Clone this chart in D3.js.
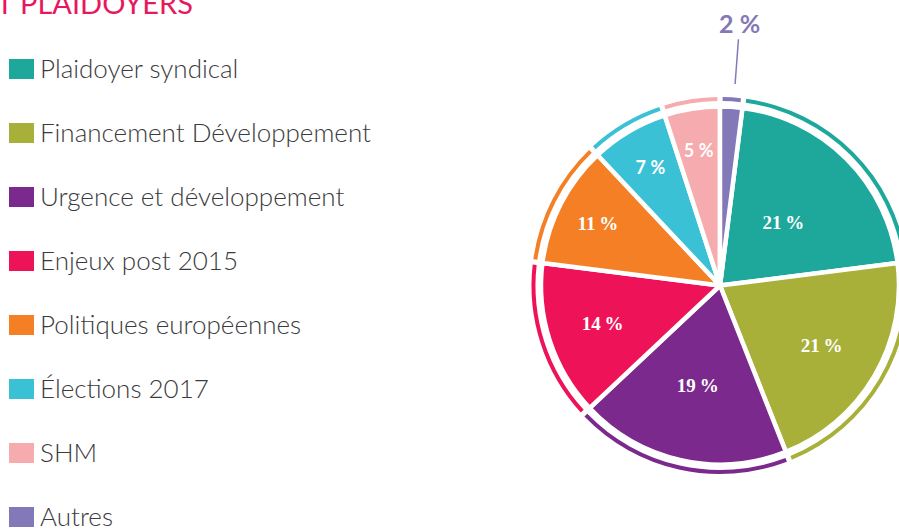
<!DOCTYPE html>
<html>
<head>
<meta charset="utf-8">
<script src="https://cdn.jsdelivr.net/npm/d3@7/dist/d3.min.js"></script>
<style>
    body { margin: 0; background: #fff; }
    svg { display: block; }
    .title { font-family: "Lato", sans-serif; font-size: 29px; fill: #e8185e; }
    .legend-text { font-family: "Lato", sans-serif; font-weight: 300; font-size: 26px; fill: #3b3a3c; }
    .slice { stroke: #fff; stroke-width: 4.5px; stroke-linejoin: round; }
    .label { fill: #fff; font-weight: bold; text-anchor: middle; }
    .label--serif { font-family: "Liberation Serif", serif; font-size: 19px; }
    .label--sans { font-family: "Lato", sans-serif; font-size: 18px; }
    .label--out { font-family: "Lato", sans-serif; font-weight: bold; font-size: 25px; text-anchor: middle; }
</style>
</head>
<body>
<script>
(function() {
    'use strict';

    let categories = [
        "Plaidoyer syndical",
        "Financement Développement",
        "Urgence et développement",
        "Enjeux post 2015",
        "Politiques européennes",
        "Élections 2017",
        "SHM",
        "Autres"
    ];
    let values = [ 21, 21, 19, 14, 11, 7, 5, 2 ];
    let colors = [ "#1ea89b", "#a8b03a", "#7b298c", "#ee1358", "#f47f25", "#3bc1d6", "#f6abae", "#8479b8" ];
    let title = "CAMPAGNES ET PLAIDOYERS";

    let width = 899;
    let height = 530;
    let cx = 720;
    let cy = 285.5;
    let radius = 179;
    let ringInner = 184.5;
    let ringOuter = 188.5;

    function init() {
        let svg = d3.select("body").append("svg")
            .attr("width", width)
            .attr("height", height);

        svg.append("text")
            .attr("class", "title")
            .attr("x", 193)
            .attr("y", 14)
            .attr("text-anchor", "end")
            .text(title);

        drawLegend(svg);
        drawPie(svg);
    }

    function drawLegend(svg) {
        let y = d3.scalePoint()
            .domain(categories)
            .range([ 69, 517 ]);

        let item = svg.append("g").selectAll("g")
            .data(categories)
            .enter()
            .append("g")
            .attr("transform", function(d) { return "translate(0," + y(d) + ")"; });

        item.append("rect")
            .attr("x", 9)
            .attr("y", -10)
            .attr("width", 25)
            .attr("height", 20)
            .attr("fill", function(d, i) { return colors[i]; });

        item.append("text")
            .attr("class", "legend-text")
            .attr("x", 40)
            .attr("y", 9)
            .text(function(d) { return d; });
    }

    function drawPie(svg) {
        let total = d3.sum(values);
        // "Autres" sits first at 12 o'clock, so the rest starts right after it
        let start = values[values.length - 1] / total * 2 * Math.PI;

        let pie = d3.pie()
            .sort(null)
            .startAngle(start)
            .endAngle(start + 2 * Math.PI);

        let arcs = pie(values);

        let arc = d3.arc().innerRadius(0).outerRadius(radius);
        let ring = d3.arc()
            .innerRadius(ringInner)
            .outerRadius(ringOuter)
            .padAngle(0.02);

        let g = svg.append("g")
            .attr("transform", "translate(" + cx + "," + cy + ")");

        g.append("g").selectAll("path")
            .data(arcs)
            .enter()
            .append("path")
            .attr("class", "slice")
            .attr("fill", function(d, i) { return colors[i]; })
            .attr("d", arc);

        g.append("g").selectAll("path")
            .data(arcs)
            .enter()
            .append("path")
            .attr("fill", function(d, i) { return colors[i]; })
            .attr("d", ring);

        // label distance from centre, as a share of the radius
        let labelShare = [ 0.5, 0.66, 0.57, 0.69, 0.765, 0.765, 0.765 ];
        function pct(v) { return v + "\u202F%"; }

        let inside = arcs.filter(function(d) { return d.value >= 5; });
        g.append("g").selectAll("text")
            .data(inside)
            .enter()
            .append("text")
            .attr("class", function(d) {
                return "label " + (d.value >= 10 ? "label--serif" : "label--sans");
            })
            .attr("transform", function(d) {
                let a = (d.startAngle + d.endAngle) / 2;
                let r = radius * labelShare[d.index];
                return "translate(" + (Math.sin(a) * r) + "," + (-Math.cos(a) * r) + ")";
            })
            .attr("dy", "0.35em")
            .text(function(d) { return pct(d.value); });

        // small slice: label outside with a leader line
        let outside = arcs.filter(function(d) { return d.value < 5; });
        outside.forEach(function(d) {
            let a = (d.startAngle + d.endAngle) / 2 + 0.012;
            let col = colors[d.index];
            g.append("line")
                .attr("x1", Math.sin(a) * 202)
                .attr("y1", -Math.cos(a) * 202)
                .attr("x2", Math.sin(a) * 247)
                .attr("y2", -Math.cos(a) * 247)
                .attr("stroke", col)
                .attr("stroke-width", 1.5);
            g.append("text")
                .attr("class", "label--out")
                .attr("fill", col)
                .attr("x", Math.sin(a) * 262)
                .attr("y", -Math.cos(a) * 262)
                .attr("dy", "0.35em")
                .text(pct(d.value));
        });
    }

    window.onload = init;
})();
</script>
</body>
</html>
